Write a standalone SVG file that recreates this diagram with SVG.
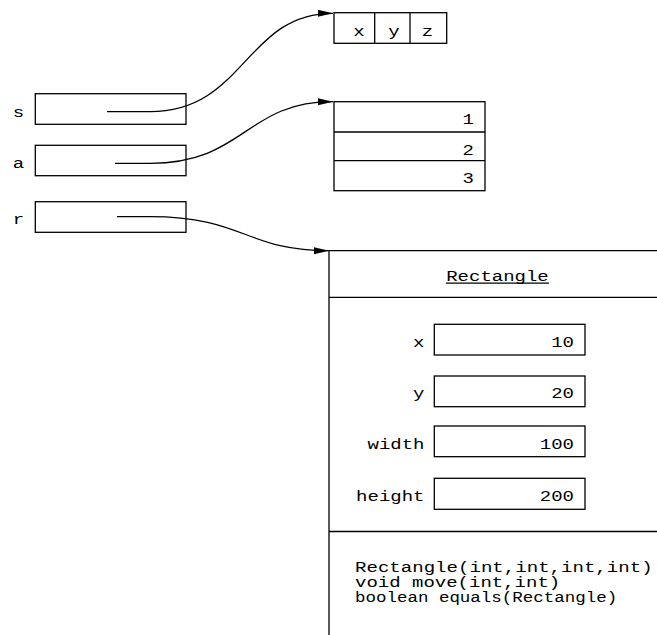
<svg xmlns="http://www.w3.org/2000/svg" width="657" height="635" viewBox="0 0 657 635">
  <style>
    .box { fill: #ffffff; stroke: #000000; stroke-width: 1.3; }
    .ln { fill: none; stroke: #000000; stroke-width: 1.3; }
    .wire { fill: none; stroke: #000000; stroke-width: 1.3; marker-end: url(#head); }
    text { font-family: "Liberation Mono", "Courier New", monospace; font-size: 14px; fill: #000000; }
    .mid { text-anchor: middle; }
    .end { text-anchor: end; }
  </style>
  <defs>
    <marker id="head" markerUnits="userSpaceOnUse" markerWidth="16" markerHeight="8" refX="15" refY="3.5" orient="auto">
      <path d="M0,0 L15,3.5 L0,7 Z" fill="#000000"/>
    </marker>
  </defs>
  <rect width="657" height="635" fill="#ffffff"/>

  <!-- reference variables -->
  <g id="var-s">
    <rect class="box" x="35.3" y="93.7" width="150.7" height="30.6"/>
    <text class="mid" x="18.5" y="117" textLength="11.4" lengthAdjust="spacingAndGlyphs">s</text>
  </g>
  <g id="var-a">
    <rect class="box" x="35.3" y="145.3" width="150.7" height="30.4"/>
    <text class="mid" x="18.5" y="168" textLength="11.4" lengthAdjust="spacingAndGlyphs">a</text>
  </g>
  <g id="var-r">
    <rect class="box" x="35.3" y="201.7" width="150.7" height="30.6"/>
    <text class="mid" x="18.5" y="224.3" textLength="11.4" lengthAdjust="spacingAndGlyphs">r</text>
  </g>

  <!-- char array -->
  <g id="chars">
    <rect class="box" x="334" y="12.7" width="112.7" height="30.6"/>
    <line class="ln" x1="374.7" y1="12.7" x2="374.7" y2="43.3"/>
    <line class="ln" x1="410" y1="12.7" x2="410" y2="43.3"/>
    <text class="mid" x="359" y="36" textLength="11.4" lengthAdjust="spacingAndGlyphs">x</text>
    <text class="mid" x="394" y="36" textLength="11.4" lengthAdjust="spacingAndGlyphs">y</text>
    <text class="mid" x="427.5" y="36" textLength="11.4" lengthAdjust="spacingAndGlyphs">z</text>
  </g>

  <!-- int array -->
  <g id="ints">
    <rect class="box" x="334" y="101.7" width="151" height="89"/>
    <line class="ln" x1="334" y1="132" x2="485" y2="132"/>
    <line class="ln" x1="334" y1="160.7" x2="485" y2="160.7"/>
    <text class="end" x="474" y="124.3" textLength="11.4" lengthAdjust="spacingAndGlyphs">1</text>
    <text class="end" x="474" y="155" textLength="11.4" lengthAdjust="spacingAndGlyphs">2</text>
    <text class="end" x="474" y="182.7" textLength="11.4" lengthAdjust="spacingAndGlyphs">3</text>
  </g>

  <!-- Rectangle object -->
  <g id="rectangle">
    <line class="ln" x1="329" y1="250.7" x2="329" y2="635"/>
    <line class="ln" x1="329" y1="250.7" x2="657" y2="250.7"/>
    <line class="ln" x1="329" y1="297.3" x2="657" y2="297.3"/>
    <line class="ln" x1="329" y1="531.5" x2="657" y2="531.5"/>
    <text class="mid" x="497.5" y="280.5" textLength="102.6" lengthAdjust="spacingAndGlyphs">Rectangle</text>
    <line class="ln" x1="446" y1="283.2" x2="549" y2="283.2" stroke-width="1"/>

    <g id="field-x">
      <rect class="box" x="434.3" y="324.3" width="150.7" height="30.7"/>
      <text class="end" x="424.5" y="346.6" textLength="11.4" lengthAdjust="spacingAndGlyphs">x</text>
      <text class="end" x="574" y="346.6" textLength="22.8" lengthAdjust="spacingAndGlyphs">10</text>
    </g>
    <g id="field-y">
      <rect class="box" x="434.3" y="376" width="150.7" height="30.7"/>
      <text class="end" x="424.5" y="398.3" textLength="11.4" lengthAdjust="spacingAndGlyphs">y</text>
      <text class="end" x="574" y="398.3" textLength="22.8" lengthAdjust="spacingAndGlyphs">20</text>
    </g>
    <g id="field-width">
      <rect class="box" x="434.3" y="426" width="150.7" height="30.7"/>
      <text class="end" x="424.5" y="449" textLength="57" lengthAdjust="spacingAndGlyphs">width</text>
      <text class="end" x="574" y="449" textLength="34.2" lengthAdjust="spacingAndGlyphs">100</text>
    </g>
    <g id="field-height">
      <rect class="box" x="434.3" y="478.3" width="150.7" height="31"/>
      <text class="end" x="424.5" y="501" textLength="68.4" lengthAdjust="spacingAndGlyphs">height</text>
      <text class="end" x="574" y="501" textLength="34.2" lengthAdjust="spacingAndGlyphs">200</text>
    </g>

    <g id="methods">
      <text x="355" y="571.7" textLength="297.6" lengthAdjust="spacingAndGlyphs">Rectangle(int,int,int,int)</text>
      <text x="355" y="586.6" textLength="205.2" lengthAdjust="spacingAndGlyphs">void move(int,int)</text>
      <text x="355" y="601.5" textLength="262.2" lengthAdjust="spacingAndGlyphs">boolean equals(Rectangle)</text>
    </g>
  </g>

  <!-- references -->
  <g id="connectors">
    <path class="wire" d="M107,111.7 L150,111.7 C245,111.7 245,13.3 333,13.3"/>
    <path class="wire" d="M115,163.3 L150,163.3 C245,163.3 245,101.7 333,101.7"/>
    <path class="wire" d="M117,216.7 L150,216.7 C245,216.7 245,250.7 329,250.7"/>
  </g>
</svg>
